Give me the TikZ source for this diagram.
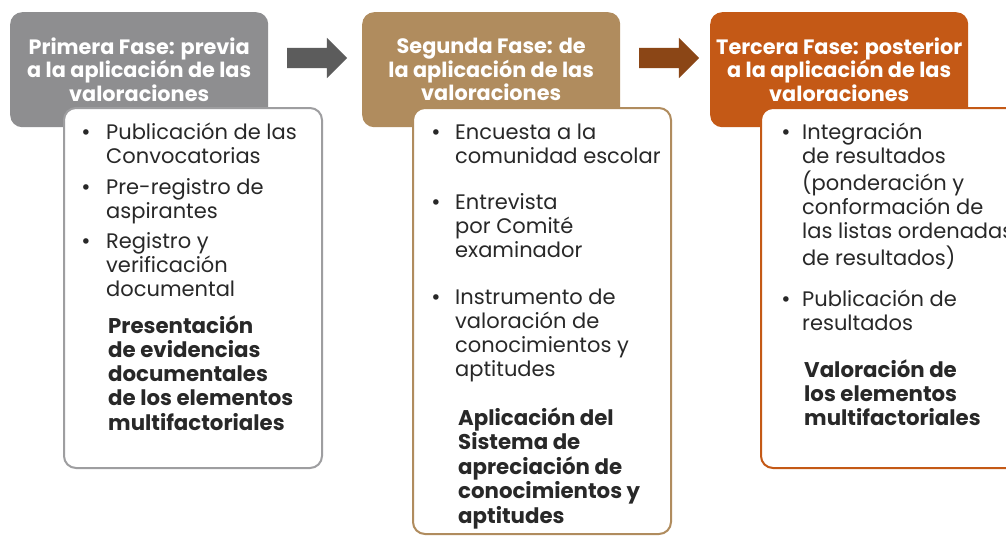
\documentclass[tikz,border=0pt]{standalone}
\usepackage{fontspec}
\setmainfont{Poppins}
\newfontfamily\dotfont{DejaVu Sans}
\usetikzlibrary{shapes.arrows}
\definecolor{grayH}{RGB}{142,142,144}
\definecolor{grayB}{RGB}{158,158,160}
\definecolor{tanH}{RGB}{176,140,94}
\definecolor{orH}{RGB}{196,89,22}
\definecolor{arA}{RGB}{92,92,92}
\definecolor{arB}{RGB}{139,70,22}
\definecolor{txt}{RGB}{40,40,40}
\newcommand\lns[1]{\begin{tabular}[t]{@{}l@{}}#1\end{tabular}}
\begin{document}
\begin{tikzpicture}[x=1pt,y=-1pt,
 header/.style={rounded corners=12pt, minimum width=258pt, minimum height=115pt, inner sep=0, text=white, font=\bfseries\fontsize{20.8}{23.5}\selectfont, align=center, anchor=north west},
 panel/.style={draw, line width=2pt, fill=white, rounded corners=12pt, anchor=north west, inner sep=0},
 item/.style={anchor=base west, inner sep=0, text=txt, font=\fontsize{21}{24.3}\selectfont},
 strong/.style={item, font=\bfseries\fontsize{21.3}{24.3}\selectfont},
 dot/.style={anchor=base, inner sep=0, text=txt, font=\dotfont\fontsize{19}{24}\selectfont},
 blockarrow/.style={single arrow, single arrow head extend=10pt, single arrow tip angle=90, minimum height=60pt, minimum width=40pt, inner sep=10pt, draw=none}
]
\useasboundingbox (0,0) rectangle (1006,536);
\fill[white] (0,0) rectangle (1006,536);
% headers
\node[header, fill=grayH] (h1) at (10,12) {Primera Fase: previa\\a la aplicación de las\\valoraciones};
\node[header, fill=tanH] (h2) at (362,12) {Segunda Fase: de\\la aplicación de las\\valoraciones};
\node[header, fill=orH] (h3) at (710,12) {Tercera Fase: posterior\\a la aplicación de las\\valoraciones};
% arrows
\node[blockarrow, fill=arA] (a1) at (312,58) {};
\node[blockarrow, fill=arB] (a2) at (664,58) {};
% panels
\node[panel, draw=grayB, minimum width=258pt, minimum height=360pt] (p1) at (63,107) {};
\node[panel, draw=tanH, minimum width=258pt, minimum height=426pt] (p2) at (412,107) {};
\node[panel, draw=orH, minimum width=280pt, minimum height=360pt] (p3) at (760,107) {};
% panel 1
\node[dot] (d11) at (86,139) {•};
\node[item] (t11) at (106,139) {\lns{Publicación de las\\Convocatorias}};
\node[dot] (d12) at (86,194) {•};
\node[item] (t12) at (106,194) {\lns{Pre-registro de\\aspirantes}};
\node[dot] (d13) at (86,248) {•};
\node[item] (t13) at (106,248) {\lns{Registro y\\verificación\\documental}};
\node[strong] (s1) at (108,333) {\lns{Presentación\\de evidencias\\documentales\\de los elementos\\multifactoriales}};
% panel 2
\node[dot] (d21) at (436,139) {•};
\node[item] (t21) at (455,139) {\lns{Encuesta a la\\comunidad escolar}};
\node[dot] (d22) at (436,209) {•};
\node[item] (t22) at (455,209) {\lns{Entrevista\\por Comité\\examinador}};
\node[dot] (d23) at (436,304) {•};
\node[item] (t23) at (455,304) {\lns{Instrumento de\\valoración de\\conocimientos y\\aptitudes}};
\node[strong] (s2) at (458,425) {\lns{Aplicación del\\Sistema de\\apreciación de\\conocimientos y\\aptitudes}};
% panel 3
\node[dot] (d31) at (786,139) {•};
\node[item] (t31) at (802,139) {\lns{Integración\\de resultados\\(ponderación y\\conformación de\\las listas ordenadas\\de resultados)}};
\node[dot] (d32) at (786,306) {•};
\node[item] (t32) at (802,306) {\lns{Publicación de\\resultados}};
\node[strong] (s3) at (804,377) {\lns{Valoración de\\los elementos\\multifactoriales}};
\end{tikzpicture}
\end{document}
